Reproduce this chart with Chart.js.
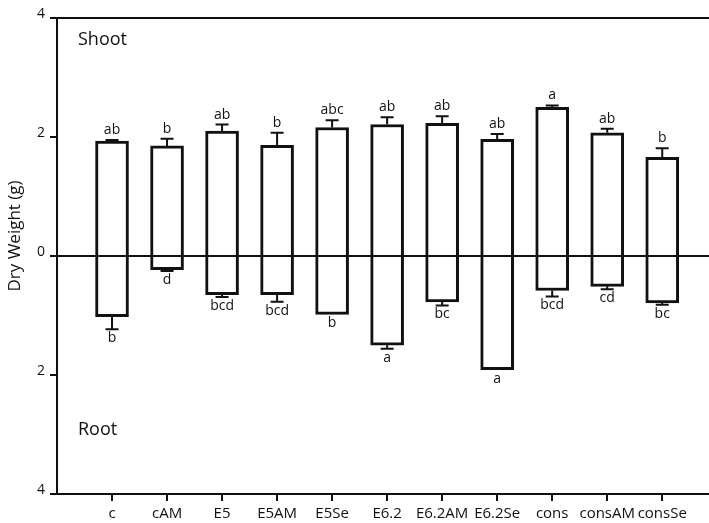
<!DOCTYPE html>
<html>
<head>
<meta charset="utf-8">
<script src="https://cdn.jsdelivr.net/npm/chart.js@4/dist/chart.umd.min.js"></script>
<style>
  html, body { margin: 0; padding: 0; background: #fff; }
  #wrap { width: 709px; height: 523px; position: relative; }
</style>
</head>
<body>
<div id="wrap"><canvas id="c" width="709" height="523"></canvas></div>
<script>
const categories = ['c','cAM','E5','E5AM','E5Se','E6.2','E6.2AM','E6.2Se','cons','consAM','consSe'];
const shoot    = [1.93, 1.85, 2.10, 1.86, 2.16, 2.21, 2.23, 1.96, 2.50, 2.07, 1.66];
const shootErr = [0.02, 0.12, 0.11, 0.21, 0.12, 0.12, 0.12, 0.09, 0.03, 0.07, 0.15];
const root     = [-1.02, -0.23, -0.65, -0.65, -0.98, -1.50, -0.77, -1.91, -0.58, -0.51, -0.79];
const rootErr  = [0.21, 0.02, 0.04, 0.12, 0.00, 0.06, 0.06, 0.00, 0.10, 0.05, 0.03];
const shootLetters = ['ab','b','ab','b','abc','ab','ab','ab','a','ab','b'];
const rootLetters  = ['b','d','bcd','bcd','b','a','bc','a','bcd','cd','bc'];
const yTicks = [-4, -2, 0, 2, 4];

const FONT = "'Open Sans', 'Noto Sans', sans-serif";
const INK = '#111';

const overlay = {
  id: 'overlay',
  afterDraw(chart) {
    const ctx = chart.ctx;
    const xs = chart.scales.x, ys = chart.scales.y;
    const area = chart.chartArea;
    ctx.save();
    ctx.fillStyle = INK;
    ctx.lineWidth = 2;
    // axis tick marks
    ctx.strokeStyle = INK;
    for (let i = 0; i < categories.length; i++) {
      const x = Math.round(xs.getPixelForValue(i));
      ctx.beginPath();
      ctx.moveTo(x, area.bottom);
      ctx.lineTo(x, area.bottom + 7);
      ctx.stroke();
    }
    for (const v of yTicks) {
      const y = Math.round(ys.getPixelForValue(v));
      ctx.beginPath();
      ctx.moveTo(area.left - 7, y);
      ctx.lineTo(area.left, y);
      ctx.stroke();
    }
    const capHalf = 6.5;
    categories.forEach((c, i) => {
      const x = xs.getPixelForValue(i);
      const drawErr = (v, e) => {
        if (e <= 0) return;
        const y0 = ys.getPixelForValue(v);
        const y1 = ys.getPixelForValue(v + Math.sign(v) * e);
        ctx.beginPath();
        ctx.moveTo(x, y0); ctx.lineTo(x, y1);
        ctx.moveTo(x - capHalf, y1); ctx.lineTo(x + capHalf, y1);
        ctx.stroke();
      };
      drawErr(shoot[i], shootErr[i]);
      drawErr(root[i], rootErr[i]);
      ctx.font = "14px " + FONT;
      ctx.textAlign = 'center';
      const yTop = ys.getPixelForValue(shoot[i] + shootErr[i]);
      ctx.textBaseline = 'alphabetic';
      ctx.fillText(shootLetters[i], x, yTop - 6);
      const yBot = ys.getPixelForValue(root[i] - rootErr[i]);
      ctx.textBaseline = 'top';
      ctx.fillText(rootLetters[i], x, yBot + 2);
    });
    ctx.font = "18px " + FONT;
    ctx.textAlign = 'left';
    ctx.textBaseline = 'alphabetic';
    ctx.fillText('Shoot', area.left + 21, area.top + 27);
    ctx.fillText('Root', area.left + 21, area.bottom - 59);
    ctx.font = "17px " + FONT;
    ctx.translate(15, 236);
    ctx.rotate(-Math.PI / 2);
    ctx.textAlign = 'center';
    ctx.textBaseline = 'middle';
    ctx.fillText('Dry Weight (g)', 0, 0);
    ctx.restore();
  }
};

const barStyle = {
  grouped: false,
  barThickness: 33,
  backgroundColor: '#ffffff',
  borderColor: INK,
  borderWidth: 3,
  borderSkipped: 'start'
};

new Chart(document.getElementById('c'), {
  type: 'bar',
  data: {
    datasets: [
      Object.assign({ label: 'Shoot', data: shoot.map((v, i) => ({ x: i, y: v })) }, barStyle),
      Object.assign({ label: 'Root',  data: root.map((v, i) => ({ x: i, y: v })) }, barStyle)
    ]
  },
  options: {
    responsive: false,
    animation: false,
    layout: { padding: { top: 18, right: 0, left: 0, bottom: 0 } },
    plugins: { legend: { display: false }, tooltip: { enabled: false }, colors: { enabled: false } },
    scales: {
      x: {
        type: 'linear',
        offset: false,
        min: -1,
        max: 10.85,
        afterBuildTicks: (s) => { s.ticks = categories.map((c, i) => ({ value: i })); },
        afterFit: (s) => { s.height = 29; },
        ticks: {
          autoSkip: false,
          maxRotation: 0,
          padding: 4,
          color: INK,
          font: { family: FONT, size: 15 },
          callback: (v) => categories[v] ?? ''
        },
        grid: {
          offset: false,
          drawOnChartArea: false,
          color: INK,
          lineWidth: 2,
          tickColor: INK,
          tickLength: 7,
          tickWidth: 2
        },
        border: { color: INK, width: 2 }
      },
      y: {
        min: -4,
        max: 4,
        afterBuildTicks: (s) => { s.ticks = yTicks.map(v => ({ value: v })); },
        afterFit: (s) => { s.width = 57; },
        ticks: {
          padding: 5,
          labelOffset: -4,
          color: INK,
          font: { family: FONT, size: 14 },
          callback: (v) => String(Math.abs(v))
        },
        grid: {
          color: (c) => (c.tick && (c.tick.value === 0 || c.tick.value === 4)) ? INK : 'rgba(255,255,255,0)',
          lineWidth: 2,
          tickColor: INK,
          tickLength: 7,
          tickWidth: 2
        },
        border: { color: INK, width: 2 }
      }
    }
  },
  plugins: [overlay]
});
</script>
</body>
</html>
